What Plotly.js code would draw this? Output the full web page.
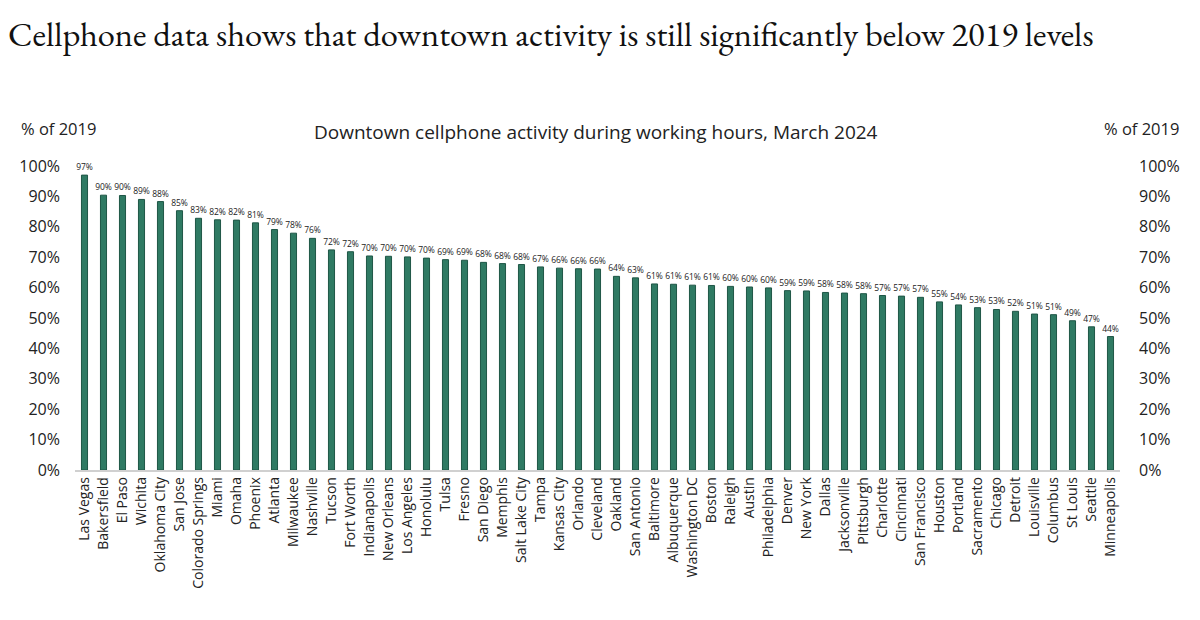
<!DOCTYPE html>
<html>
<head>
<meta charset="utf-8">
<script src="https://cdn.plot.ly/plotly-3.0.1.min.js"></script>
<style>html,body{margin:0;padding:0;background:#fff;}#chart{width:1200px;height:620px;}</style>
</head>
<body>
<div id="chart"></div>
<script>
const cities = ["Las Vegas","Bakersfield","El Paso","Wichita","Oklahoma City","San Jose","Colorado Springs","Miami","Omaha","Phoenix","Atlanta","Milwaukee","Nashville","Tucson","Fort Worth","Indianapolis","New Orleans","Los Angeles","Honolulu","Tulsa","Fresno","San Diego","Memphis","Salt Lake City","Tampa","Kansas City","Orlando","Cleveland","Oakland","San Antonio","Baltimore","Albuquerque","Washington DC","Boston","Raleigh","Austin","Philadelphia","Denver","New York","Dallas","Jacksonville","Pittsburgh","Charlotte","Cincinnati","San Francisco","Houston","Portland","Sacramento","Chicago","Detroit","Louisville","Columbus","St Louis","Seattle","Minneapolis"];
const activity = [0.970,0.904,0.903,0.890,0.883,0.853,0.828,0.823,0.822,0.813,0.791,0.779,0.762,0.724,0.718,0.704,0.703,0.701,0.697,0.692,0.690,0.683,0.679,0.676,0.668,0.664,0.662,0.661,0.637,0.632,0.612,0.611,0.608,0.607,0.604,0.602,0.599,0.590,0.589,0.584,0.582,0.580,0.574,0.572,0.568,0.553,0.543,0.534,0.528,0.522,0.513,0.511,0.491,0.471,0.439];
const labels = activity.map(v => Math.round(v*100) + "%");
const tickVals = [0,0.1,0.2,0.3,0.4,0.5,0.6,0.7,0.8,0.9,1.0];
const tickText = tickVals.map(v => Math.round(v*100) + "%");

const sans = "Open Sans, Noto Sans, sans-serif";
const data = [
  {
    type: "bar", x: cities, y: activity, text: labels,
    textposition: "outside", cliponaxis: false, constraintext: "none",
    textfont: {family: sans, size: 8.5, color: "#222"},
    marker: {color: "#2f7a63", line: {color: "#1e5646", width: 1}},
    hoverinfo: "x+text"
  },
  {
    type: "bar", x: cities, y: activity, yaxis: "y2",
    marker: {color: "rgba(0,0,0,0)"}, hoverinfo: "skip", showlegend: false
  }
];
const layout = {
  width: 1200, height: 620,
  margin: {l: 75, r: 80, t: 166, b: 150},
  paper_bgcolor: "#fff", plot_bgcolor: "#fff",
  showlegend: false, bargap: 0.68, barmode: "overlay",
  font: {family: sans, color: "#222"},
  xaxis: {
    tickangle: -90, tickfont: {family: sans, size: 14, color: "#222"},
    showline: true, linecolor: "#d0d0d0", linewidth: 1.5, ticks: "", showgrid: false,
    automargin: false
  },
  yaxis: {
    range: [0, 1.0], tickvals: tickVals, ticktext: tickText,
    tickfont: {family: sans, size: 16, color: "#222"}, showgrid: false, zeroline: false,
    ticks: "", ticklabelstandoff: 14, automargin: false
  },
  yaxis2: {
    overlaying: "y", side: "right", range: [0, 1.0], tickvals: tickVals, ticktext: tickText,
    tickfont: {family: sans, size: 16, color: "#222"}, showgrid: false, zeroline: false,
    ticks: "", ticklabelstandoff: 18, automargin: false
  },
  annotations: [
    {text: "Cellphone data shows that downtown activity is still significantly below 2019 levels",
     xref: "paper", yref: "paper", x: 0, y: 1, xanchor: "left", yanchor: "middle",
     xshift: -69, yshift: 133, showarrow: false,
     font: {family: "EB Garamond, Garamond, Liberation Serif, serif", size: 34.5, color: "#111"}},
    {text: "Downtown cellphone activity during working hours, March 2024",
     xref: "paper", yref: "paper", x: 0.5, y: 1, xanchor: "center", yanchor: "middle",
     yshift: 34, xshift: -2, showarrow: false,
     font: {family: sans, size: 19, color: "#222"}},
    {text: "% of 2019", xref: "paper", yref: "paper", x: 0, y: 1, xanchor: "left", yanchor: "middle",
     xshift: -56, yshift: 38, showarrow: false, font: {family: sans, size: 16.5, color: "#222"}},
    {text: "% of 2019", xref: "paper", yref: "paper", x: 1, y: 1, xanchor: "right", yanchor: "middle",
     xshift: 61, yshift: 38, showarrow: false, font: {family: sans, size: 16.5, color: "#222"}}
  ]
};
Plotly.newPlot("chart", data, layout, {displayModeBar: false, staticPlot: true});
</script>
</body>
</html>
